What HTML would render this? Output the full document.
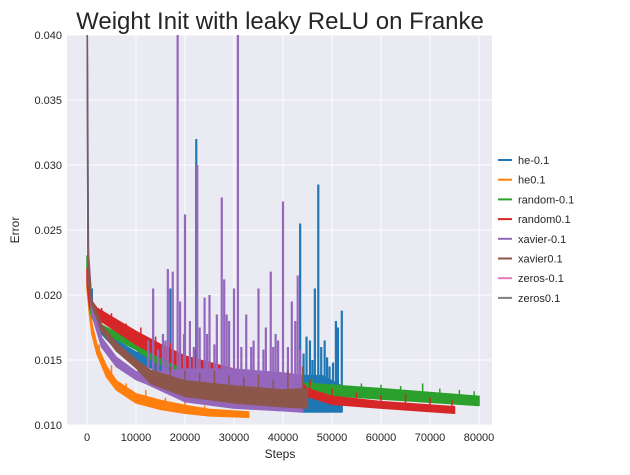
<!DOCTYPE html>
<html><head><meta charset="utf-8"><style>
body{margin:0;background:#fff;}
svg{font-family:"Liberation Sans",sans-serif;}
</style></head><body>
<svg id="chart" width="630" height="470">
<text x="280" y="29" font-size="24" text-anchor="middle" fill="#262626">Weight Init with leaky ReLU on Franke</text>
<rect x="67" y="35" width="425" height="390" fill="#EAEAF2"/>
<g id="grid"></g><g id="series"></g><g id="ticks"></g>
<text x="280" y="458" font-size="12" text-anchor="middle" fill="#262626">Steps</text>
<text x="19" y="230" font-size="12" text-anchor="middle" fill="#262626" transform="rotate(-90 19 230)">Error</text>
<g id="legend"></g>
</svg>
<script>
const xTicks=[0,10000,20000,30000,40000,50000,60000,70000,80000];
const yTicks=[0.010,0.015,0.020,0.025,0.030,0.035,0.040];
const names=["he-0.1","he0.1","random-0.1","random0.1","xavier-0.1","xavier0.1","zeros-0.1","zeros0.1"];
const colors=["#1f77b4","#ff7f0e","#2ca02c","#d62728","#9467bd","#8c564b","#e377c2","#7f7f7f"];
// he-0.1
const heNSteps=[0,300,1000,2500,6000,10000,14000,20000,30000,40000,44000,48000,52000];
const heNLow=[0.045,0.021,0.0185,0.0172,0.0158,0.015,0.0142,0.0135,0.013,0.0125,0.011,0.011,0.011];
const heNHigh=[0.045,0.023,0.0192,0.0178,0.0165,0.0156,0.015,0.0143,0.0137,0.0132,0.0138,0.0138,0.013];
const heNSpikes=[[22300,0.032],[47200,0.0285],[43500,0.0255],[46500,0.0205],[52000,0.0188],[50800,0.018],[48500,0.0165],[17000,0.0205],[45500,0.0165],[10500,0.0158],[1000,0.0205],[44800,0.0168],[49500,0.0145],[51200,0.0175],[47800,0.016],[46000,0.015],[49000,0.0152],[50200,0.0148],[44200,0.0155]];
// he0.1
const hePSteps=[0,500,1000,2000,4000,6000,10000,15000,20000,25000,33000];
const hePLow=[0.0205,0.0185,0.017,0.0155,0.0137,0.0127,0.0117,0.0112,0.0109,0.0107,0.0106];
const hePHigh=[0.021,0.0195,0.0178,0.0162,0.0145,0.0134,0.0124,0.0119,0.0115,0.0112,0.011];
const hePSpikes=[[2500,0.0162],[5000,0.0146],[8000,0.0132],[12000,0.0127],[16000,0.0121],[20000,0.0119],[24000,0.0115]];
// random-0.1
const rnNSteps=[0,500,1000,2500,10000,14000,20000,30000,45000,60000,80000];
const rnNLow=[0.022,0.019,0.0183,0.0173,0.0158,0.0148,0.0141,0.0132,0.0124,0.012,0.0115];
const rnNHigh=[0.023,0.0198,0.0188,0.0178,0.0163,0.0153,0.0146,0.0138,0.0132,0.0128,0.0122];
const rnNSpikes=[[46000,0.0135],[52000,0.0134],[56000,0.0132],[60000,0.0131],[64000,0.013],[68500,0.0132],[72000,0.0128],[76000,0.0127],[79000,0.0126]];
// random0.1
const rnPSteps=[0,500,2000,10000,15000,20000,30000,44000,45000,50000,60000,75000];
const rnPLow=[0.021,0.0192,0.0182,0.0162,0.0152,0.0143,0.0136,0.0125,0.0122,0.0116,0.0113,0.0109];
const rnPHigh=[0.022,0.0198,0.019,0.0172,0.0162,0.0153,0.0143,0.0132,0.0128,0.0122,0.0118,0.0114];
const rnPSpikes=[[3000,0.019],[5000,0.0186],[8000,0.0178],[11000,0.0175],[14000,0.0168],[17000,0.0163],[22000,0.0158],[26000,0.015],[45500,0.0135],[50000,0.0128],[55000,0.0125],[60000,0.0123],[65000,0.0124],[70000,0.0121],[74500,0.0119]];
// xavier-0.1
const xvNSteps=[0,200,1000,3000,6000,10000,12000,20000,30000,40000,44000];
const xvNLow=[0.045,0.022,0.0185,0.016,0.0145,0.0135,0.0132,0.0118,0.0113,0.0111,0.011];
const xvNHigh=[0.045,0.024,0.0192,0.0167,0.0152,0.0141,0.014,0.0143,0.0143,0.014,0.0138];
const xvNSpikes=[[13500,0.0205],[16500,0.022],[17500,0.0218],[18500,0.040],[20000,0.0262],[22500,0.030],[24000,0.0198],[25000,0.020],[27500,0.0275],[28000,0.0212],[30000,0.0205],[30800,0.040],[32500,0.0185],[35000,0.0205],[37500,0.0218],[40000,0.0272],[41800,0.0195],[43000,0.0215],[21000,0.018],[26500,0.0185],[38500,0.017],[19000,0.0195],[23000,0.0175],[29000,0.018],[33500,0.016],[36500,0.0175],[39000,0.0165],[42500,0.018],[15500,0.017],[12500,0.0165],[14500,0.0158],[16000,0.0165],[19800,0.017],[21800,0.016],[24500,0.017],[26000,0.0162],[28500,0.0185],[31500,0.016],[34000,0.0165],[36000,0.0158],[38000,0.016],[41000,0.016],[43500,0.0158]];
// xavier0.1
const xvPSteps=[0,200,1000,3000,6000,10000,13000,20000,30000,40000,45000];
const xvPLow=[0.045,0.021,0.0192,0.0172,0.0157,0.0144,0.0132,0.0122,0.0117,0.0114,0.0113];
const xvPHigh=[0.045,0.023,0.0196,0.0177,0.0163,0.015,0.0142,0.0134,0.013,0.0127,0.0128];
const xvPSpikes=[[14000,0.0148],[17000,0.0145],[20000,0.0142],[23000,0.014],[26000,0.0142],[29000,0.0138],[32000,0.0137],[35000,0.0139],[38000,0.0135],[41000,0.0142],[44000,0.0145]];

const X0=87,X1=479,Y0=425,Y1=35;
const xs=v=>X0+(v/80000)*(X1-X0);
const ys=v=>Y0-(v-0.010)/0.030*(Y0-Y1);
const NS="http://www.w3.org/2000/svg";
function mk(tag,attrs,parent){const e=document.createElementNS(NS,tag);for(const k in attrs)e.setAttribute(k,attrs[k]);parent.appendChild(e);return e;}
const grid=document.getElementById('grid'),ticks=document.getElementById('ticks'),ser=document.getElementById('series'),leg=document.getElementById('legend');
xTicks.forEach(t=>{
 const l=mk('line',{x1:xs(t),x2:xs(t),y1:35,y2:425,stroke:'#fff','stroke-width':1},grid);
 
 
 const tx=mk('text',{x:xs(t),y:441,'font-size':11,'text-anchor':'middle',fill:'#262626'},ticks);tx.textContent=t;
 
 
});
yTicks.forEach(t=>{
 const l=mk('line',{x1:67,x2:492,y1:ys(t),y2:ys(t),stroke:'#fff','stroke-width':1},grid);
 
 
 const tx=mk('text',{x:62,y:ys(t)+4,'font-size':11,'text-anchor':'end',fill:'#262626'},ticks);tx.textContent=t.toFixed(3);
 
 
});
const clip=mk('clipPath',{id:'pc'},mk('defs',{},ser));mk('rect',{x:67,y:35,width:425,height:390},clip);
ser.setAttribute('clip-path','url(#pc)');
function band(steps,low,high,color,name){
 let d='M'+steps.map((s,i)=>xs(s)+','+ys(high[i])).join('L');
 for(let i=steps.length-1;i>=0;i--)d+='L'+xs(steps[i])+','+ys(low[i]);
 const p=mk('path',{d:d+'Z',fill:color,stroke:color,'stroke-width':1.5,'stroke-linejoin':'round'},ser);
 
 
}
function spikes(arr,steps,low,color,name,w){
 arr.forEach(([s,v])=>{
  let b=low[0];for(let i=1;i<steps.length;i++){if(s<=steps[i]){const f=(s-steps[i-1])/(steps[i]-steps[i-1]);b=low[i-1]+f*(low[i]-low[i-1]);break;}}
  const l=mk('line',{x1:xs(s),x2:xs(s),y1:ys(b),y2:ys(v),stroke:color,'stroke-width':w},ser);
  
  
 });
}
band(heNSteps,heNLow,heNHigh,colors[0],'series-he-neg');
spikes(heNSpikes,heNSteps,heNLow,colors[0],'spike-he-neg',2.2);
band(hePSteps,hePLow,hePHigh,colors[1],'series-he-pos');
spikes(hePSpikes,hePSteps,hePLow,colors[1],'spike-he-pos',1.5);
band(rnNSteps,rnNLow,rnNHigh,colors[2],'series-random-neg');
spikes(rnNSpikes,rnNSteps,rnNLow,colors[2],'spike-random-neg',1.5);
band(rnPSteps,rnPLow,rnPHigh,colors[3],'series-random-pos');
spikes(rnPSpikes,rnPSteps,rnPLow,colors[3],'spike-random-pos',1.5);
band(xvNSteps,xvNLow,xvNHigh,colors[4],'series-xavier-neg');
spikes(xvNSpikes,xvNSteps,xvNLow,colors[4],'spike-xavier-neg',2.2);
band(xvPSteps,xvPLow,xvPHigh,colors[5],'series-xavier-pos');
spikes(xvPSpikes,xvPSteps,xvPLow,colors[5],'spike-xavier-pos',1.5);
names.forEach((n,i)=>{
 const y=160+i*19.7;
 const l=mk('line',{x1:498,x2:512,y1:y,y2:y,stroke:colors[i],'stroke-width':2},leg);
 
 
 const t=mk('text',{x:518,y:y+4,'font-size':11,fill:'#262626'},leg);t.textContent=n;
 
 
});
</script>
</body></html>
